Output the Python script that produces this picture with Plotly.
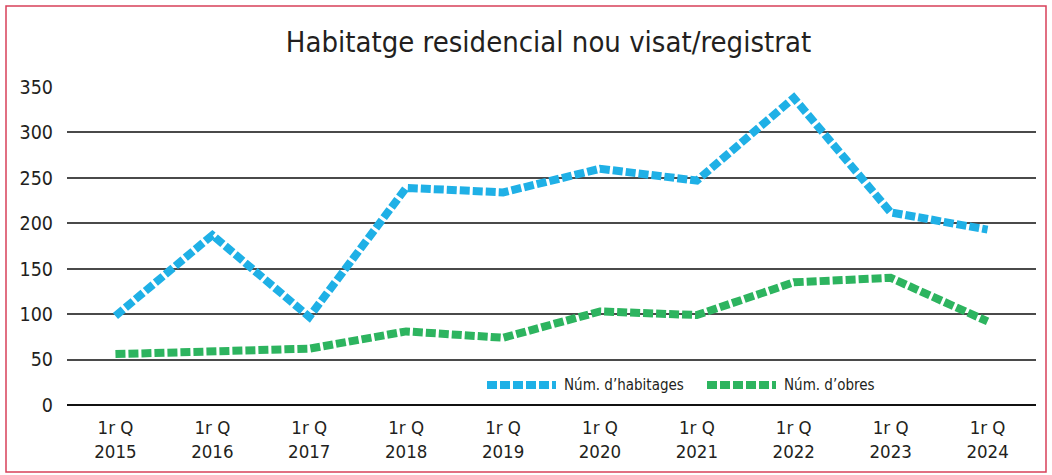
import plotly.graph_objects as go

categories = ["1r Q<br>2015", "1r Q<br>2016", "1r Q<br>2017", "1r Q<br>2018", "1r Q<br>2019",
              "1r Q<br>2020", "1r Q<br>2021", "1r Q<br>2022", "1r Q<br>2023", "1r Q<br>2024"]
habitatges = [98, 187, 97, 239, 234, 260, 247, 338, 212, 193]
obres = [56, 60, 62, 81, 74, 103, 99, 135, 140, 92]
y_ticks = [0, 50, 100, 150, 200, 250, 300, 350]
series_names = ["Núm. d’habitages", "Núm. d’obres"]
series_colors = ["#1fb0e6", "#2db45f"]

FONT = "DejaVu Sans Condensed, DejaVu Sans, sans-serif"
TXT = "#231f20"
DASH = "10px,3px"

L, R, T, B = 67, 16, 87, 70
PW, PH = 1052 - L - R, 475 - T - B

def px_x(p):
    return (p - L) / PW

def px_y(p):
    return (475 - B - p) / PH

fig = go.Figure()
for vals, name, col in zip([habitatges, obres], series_names, series_colors):
    fig.add_trace(go.Scatter(x=categories, y=vals, mode="lines", name=name, showlegend=False,
                             line=dict(color=col, width=8, dash=DASH)))

# manual legend (long dashed samples)
shapes = [dict(type="rect", xref="paper", yref="paper",
               x0=px_x(6), x1=px_x(1046), y0=px_y(472), y1=px_y(6),
               line=dict(color="#d8405a", width=1.5), layer="below")]
annotations = []
leg_y = px_y(385)
for (sx0, sx1, tx), name, col in zip([(487, 556, 562), (707, 776, 782)], series_names, series_colors):
    shapes.append(dict(type="line", xref="paper", yref="paper", x0=px_x(sx0), x1=px_x(sx1),
                       y0=leg_y, y1=leg_y, line=dict(color=col, width=8, dash=DASH)))
    annotations.append(dict(text=name, xref="paper", yref="paper", x=px_x(tx), y=leg_y,
                            xanchor="left", yanchor="middle", showarrow=False,
                            font=dict(family=FONT, size=15, color=TXT)))

fig.update_layout(
    width=1052, height=475,
    margin=dict(l=L, r=R, t=T, b=B),
    paper_bgcolor="white", plot_bgcolor="white",
    title=dict(text="Habitatge residencial nou visat/registrat", x=548.5 / 1052, xanchor="center",
               y=1 - 42 / 475, yanchor="middle",
               font=dict(family=FONT, size=29, color=TXT)),
    font=dict(family=FONT, color=TXT),
    showlegend=False,
    xaxis=dict(range=[-0.5, 9.5], showgrid=False, showline=False, ticks="",
               tickfont=dict(size=18.5, color=TXT), ticklabelstandoff=9, fixedrange=True),
    yaxis=dict(range=[0, 350], tickvals=y_ticks, showgrid=True, gridcolor="#4a4a4a", gridwidth=1.5,
               zeroline=True, zerolinecolor="#111111", zerolinewidth=2,
               ticks="", ticklabelstandoff=13, tickfont=dict(size=19.5, color=TXT), fixedrange=True),
    shapes=shapes,
    annotations=annotations,
)

fig.write_html("out.html", config={"displayModeBar": False},
               post_script="document.body.style.margin='0';")
